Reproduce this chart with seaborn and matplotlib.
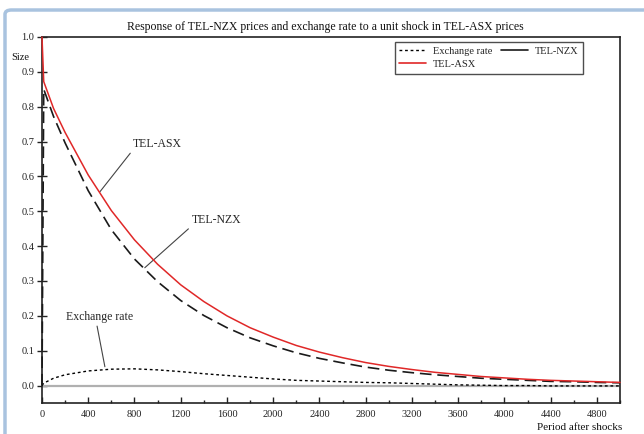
import matplotlib
matplotlib.use("Agg")
import matplotlib.pyplot as plt
from matplotlib.lines import Line2D
from matplotlib.patches import FancyBboxPatch
from matplotlib.ticker import MultipleLocator
import seaborn as sns
import pandas as pd

# === data ===
periods = [0, 15, 100, 200, 400, 600, 800, 1000, 1200, 1400, 1600, 1800, 2000,
           2200, 2400, 2600, 2800, 3000, 3200, 3400, 3600, 3800, 4000, 4200,
           4400, 4600, 4800, 5000]
tel_asx = [1.0, 0.872, 0.795, 0.726, 0.604, 0.502, 0.418, 0.348, 0.289, 0.241,
           0.200, 0.166, 0.139, 0.115, 0.096, 0.080, 0.066, 0.055, 0.046, 0.038,
           0.032, 0.026, 0.022, 0.018, 0.015, 0.013, 0.011, 0.009]
tel_nzx = [0.0, 0.850, 0.772, 0.696, 0.559, 0.447, 0.363, 0.298, 0.244, 0.201,
           0.166, 0.137, 0.114, 0.094, 0.078, 0.065, 0.053, 0.044, 0.037, 0.031,
           0.026, 0.021, 0.018, 0.015, 0.012, 0.011, 0.009, 0.008]
exch_rate = [0.0, 0.007, 0.021, 0.031, 0.042, 0.047, 0.048, 0.045, 0.040, 0.034,
             0.029, 0.024, 0.019, 0.015, 0.013, 0.011, 0.009, 0.008, 0.006, 0.004,
             0.002, 0.001, 0.0, 0.0, -0.001, -0.001, -0.001, -0.001]

df = pd.DataFrame({"period": periods, "asx": tel_asx, "nzx": tel_nzx, "exch": exch_rate})

sns.set_theme(style="white")
plt.rcParams["font.family"] = ["Liberation Serif", "DejaVu Serif"]

fig = plt.figure(figsize=(6.44, 4.34), dpi=100)
fig.patch.set_facecolor("white")

# window frame around the picture
frame = FancyBboxPatch((5 / 644, -0.2), 1.2, 1.2 - 10 / 434,
                       boxstyle="round,pad=0,rounding_size=0.01",
                       transform=fig.transFigure, fill=False,
                       edgecolor="#a9c3df", lw=2.5, zorder=0)
fig.patches.append(frame)

ax = fig.add_axes([42 / 644, 1 - 403 / 434, 578 / 644, 366 / 434])

ax.axhline(0, color="#b0b0b0", lw=1.6, zorder=1)

sns.lineplot(data=df, x="period", y="exch", ax=ax, color="black", lw=1.0,
             linestyle=(0, (2, 2)), zorder=3)
sns.lineplot(data=df, x="period", y="nzx", ax=ax, color="#1a1a1a", lw=1.2,
             linestyle=(0, (7, 3.5)), zorder=3, clip_on=False)
sns.lineplot(data=df, x="period", y="asx", ax=ax, color="#e02828", lw=1.1,
             zorder=4, clip_on=False)

ax.set_xlim(0, 5000)
ax.set_ylim(-0.05, 1.0)
ax.xaxis.set_major_locator(MultipleLocator(400))
ax.xaxis.set_minor_locator(MultipleLocator(200))
ax.yaxis.set_major_locator(MultipleLocator(0.1))
ax.yaxis.set_major_formatter(matplotlib.ticker.FormatStrFormatter("%.1f"))
ax.tick_params(axis="x", which="major", direction="in", length=4, width=1,
               labelsize=7.5, pad=5, bottom=True, colors="#222")
ax.tick_params(axis="x", which="minor", direction="in", length=2.5, width=1,
               bottom=True, colors="#222")
ax.tick_params(axis="y", which="major", direction="inout", length=7, width=1,
               labelsize=7.5, pad=2, left=True, colors="#222")
for s in ax.spines.values():
    s.set_color("#222")
    s.set_linewidth(1.2)
ax.set_xlabel("")
ax.set_ylabel("")

fig.text(325 / 644, 1 - 27 / 434, "Response of TEL-NZX prices and exchange rate to a unit shock in TEL-ASX prices",
         ha="center", va="center", fontsize=8.5, color="#111")
fig.text(20 / 644, 1 - 57 / 434, "Size", ha="center", va="center", fontsize=7.5, color="#111")
fig.text(580 / 644, 1 - 428 / 434, "Period after shocks", ha="center", va="center",
         fontsize=8, color="#111")

# labels with leader lines
line_kw = dict(arrowstyle="-", color="#444", lw=0.8, shrinkA=0, shrinkB=0)
ax.annotate("TEL-ASX", xy=(501, 0.556), xytext=(786, 0.676), ha="left", va="bottom",
            fontsize=8.5, arrowprops=dict(relpos=(0, 0), **line_kw))
ax.annotate("TEL-NZX", xy=(889, 0.338), xytext=(1295, 0.458), ha="left", va="bottom",
            fontsize=8.5, arrowprops=dict(relpos=(0, 0), **line_kw))
ax.annotate("Exchange rate", xy=(544, 0.054), xytext=(500, 0.18), ha="center", va="bottom",
            fontsize=8.5, arrowprops=dict(relpos=(0.45, 0), **line_kw))

handles = [Line2D([], [], color="black", lw=1.0, linestyle=(0, (2, 2))),
           Line2D([], [], color="#e02828", lw=1.2),
           Line2D([], [], color="#1a1a1a", lw=1.2)]
labels = ["Exchange rate", "TEL-ASX", "TEL-NZX"]
leg = ax.legend(handles, labels, ncol=2, loc="upper right", bbox_to_anchor=(0.936, 0.986),
                borderaxespad=0, fontsize=7.5, frameon=True, fancybox=False,
                handlelength=2.6, borderpad=0.45, labelspacing=0.35,
                columnspacing=0.9, handletextpad=0.6)
leg.get_frame().set_edgecolor("#222")
leg.get_frame().set_linewidth(1.0)

fig.savefig("out.png", dpi=100)
